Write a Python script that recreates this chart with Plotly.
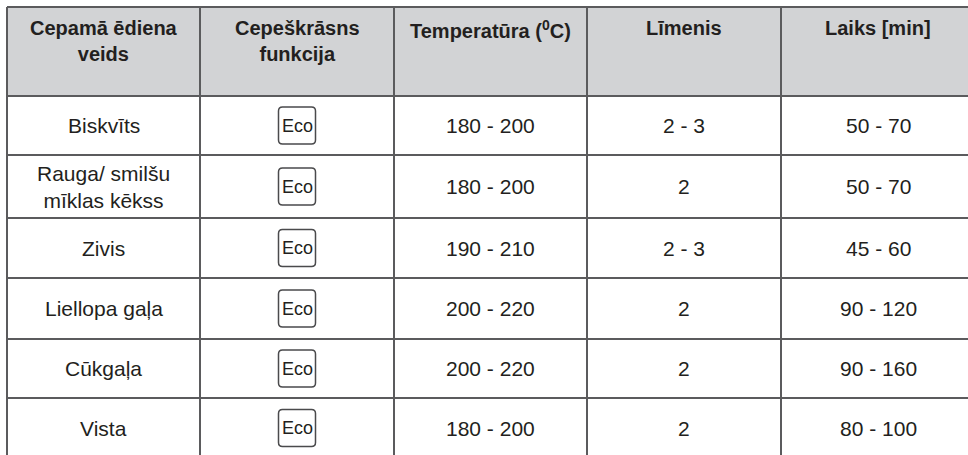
"""
Cepeškrāsns tabula: ēdiena veids, funkcija, temperatūra, līmenis, laiks
"""

import plotly.graph_objects as go

# table content
headers = [
    "Cepamā ēdiena<br>veids",
    "Cepeškrāsns<br>funkcija",
    "Temperatūra (<sup>0</sup>C)",
    "Līmenis",
    "Laiks [min]",
]
dishes = [
    "Biskvīts",
    "Rauga/ smilšu<br>mīklas kēkss",
    "Zivis",
    "Liellopa gaļa",
    "Cūkgaļa",
    "Vista",
]
functions = ["Eco", "Eco", "Eco", "Eco", "Eco", "Eco"]
temperatures = ["180 - 200", "180 - 200", "190 - 210", "200 - 220", "200 - 220", "180 - 200"]
levels = ["2 - 3", "2", "2 - 3", "2", "2", "2"]
times = ["50 - 70", "50 - 70", "45 - 60", "90 - 120", "90 - 160", "80 - 100"]

# grid geometry (pixels, y grows downward)
col_edges = [7, 200, 394, 587, 781, 975]
row_edges = [7, 96, 155, 218, 278, 339, 398, 458]

line_color = "#5b5b5d"
header_fill = "#d2d3d5"
text_color = "#231f20"
font_family = "Arial, 'Liberation Sans', sans-serif"

fig = go.Figure()

shapes = []
# header background
shapes.append(
    dict(
        type="rect",
        x0=col_edges[0], x1=col_edges[-1], y0=row_edges[0], y1=row_edges[1],
        fillcolor=header_fill, line=dict(width=0), layer="below",
    )
)
# horizontal lines
for y in row_edges:
    shapes.append(
        dict(type="line", x0=col_edges[0], x1=col_edges[-1], y0=y, y1=y,
             line=dict(color=line_color, width=2))
    )
# vertical lines
for x in col_edges:
    shapes.append(
        dict(type="line", x0=x, x1=x, y0=row_edges[0], y1=row_edges[-1],
             line=dict(color=line_color, width=2))
    )


def col_center(i):
    return (col_edges[i] + col_edges[i + 1]) / 2


def row_center(r):
    return (row_edges[r] + row_edges[r + 1]) / 2


annotations = []
# header labels, top aligned
for i, h in enumerate(headers):
    annotations.append(
        dict(x=col_center(i), y=row_edges[0] + 8, text=f"<b>{h}</b>",
             xanchor="center", yanchor="top", showarrow=False, align="center",
             font=dict(size=20, color=text_color, family=font_family))
    )

# body rows
box = 18.5  # half size of Eco icon
rad = 4
for r in range(len(dishes)):
    yc = row_center(r + 1)
    for i, val in enumerate([dishes[r], None, temperatures[r], levels[r], times[r]]):
        if val is None:
            continue
        annotations.append(
            dict(x=col_center(i), y=yc, text=val, xanchor="center", yanchor="middle",
                 showarrow=False, align="center",
                 font=dict(size=21, color=text_color, family=font_family))
        )
    # function icon: rounded box with label
    xc = col_center(1)
    x0, x1, y0, y1 = xc - box, xc + box, yc - box, yc + box
    path = (
        f"M {x0 + rad},{y0} L {x1 - rad},{y0} Q {x1},{y0} {x1},{y0 + rad} "
        f"L {x1},{y1 - rad} Q {x1},{y1} {x1 - rad},{y1} "
        f"L {x0 + rad},{y1} Q {x0},{y1} {x0},{y1 - rad} "
        f"L {x0},{y0 + rad} Q {x0},{y0} {x0 + rad},{y0} Z"
    )
    shapes.append(dict(type="path", path=path, line=dict(color="#4a4a4c", width=1.5)))
    annotations.append(
        dict(x=xc, y=yc, text=functions[r], xanchor="center", yanchor="middle",
             showarrow=False, font=dict(size=18, color=text_color, family=font_family))
    )

fig.update_layout(
    width=968,
    height=455,
    margin=dict(l=0, r=0, t=0, b=0),
    paper_bgcolor="white",
    plot_bgcolor="white",
    xaxis=dict(range=[0, 968], visible=False, fixedrange=True),
    yaxis=dict(range=[455, 0], visible=False, fixedrange=True),
    shapes=shapes,
    annotations=annotations,
    showlegend=False,
)

# drop the browser's default body margin so the figure sits at the page corner
fig.write_html(
    "out.html",
    config={"displayModeBar": False},
    post_script="document.body.style.margin='0';document.body.style.overflow='hidden';",
)
